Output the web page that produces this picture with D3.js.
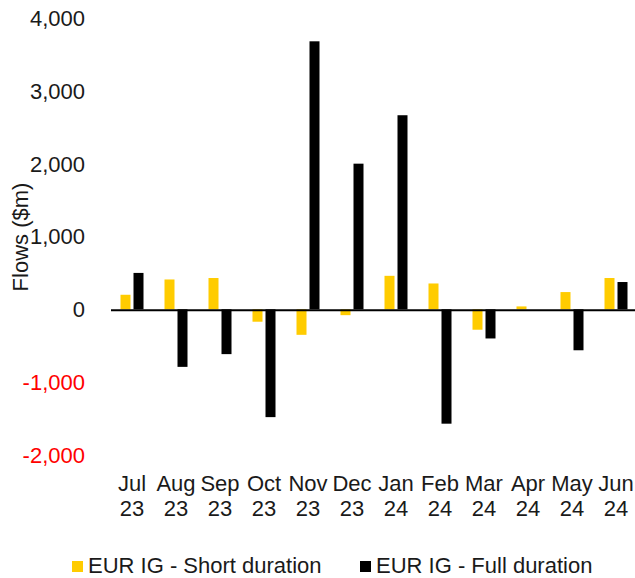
<!DOCTYPE html>
<html>
<head>
<meta charset="utf-8">
<script src="https://d3js.org/d3.v7.min.js"></script>
<style type="text/css">
    html, body {
        margin: 0;
        padding: 0;
        background: #fff;
    }
    svg text {
        font-family: "Liberation Sans", Arial, sans-serif;
        fill: #1a1a1a;
    }
</style>
</head>
<body>
<div id="chart"></div>
<script>
// chart values
var months = ['Jul 23', 'Aug 23', 'Sep 23', 'Oct 23', 'Nov 23', 'Dec 23',
              'Jan 24', 'Feb 24', 'Mar 24', 'Apr 24', 'May 24', 'Jun 24'];
var seriesNames = ['EUR IG - Short duration', 'EUR IG - Full duration'];
var shortDuration = [200, 410, 430, -170, -350, -80, 460, 355, -280, 40, 237, 430];
var fullDuration = [500, -790, -615, -1480, 3680, 2000, 2665, -1570, -400, 0, -562, 375];
var yTicks = [-2000, -1000, 0, 1000, 2000, 3000, 4000];
var yTickLabels = ['-2,000', '-1,000', '0', '1,000', '2,000', '3,000', '4,000'];
var colors = ['#ffcc00', '#000000'];

var width = 635, height = 578;

var svg = d3.select('#chart').append('svg')
    .attr('width', width)
    .attr('height', height);

var x = d3.scaleBand()
    .domain(months)
    .range([110, 638])
    .padding(0);

var step = x.step();
var inner = d3.scaleBand()
    .domain([0, 1])
    .range([step / 2 - 11.5, step / 2 + 11.5])
    .paddingInner(0.2308)
    .paddingOuter(0);

var y = d3.scaleLinear()
    .domain([-2000, 4000])
    .range([455, 18]);

// y tick labels, negatives in red
svg.append('g')
    .selectAll('text')
    .data(yTicks)
    .enter()
    .append('text')
    .attr('x', 85)
    .attr('y', function(d) { return y(d); })
    .attr('dy', '0.36em')
    .attr('text-anchor', 'end')
    .style('font-size', '22px')
    .style('fill', function(d) { return d < 0 ? '#ff0000' : '#1a1a1a'; })
    .text(function(d, i) { return yTickLabels[i]; });

// y axis title
svg.append('text')
    .attr('transform', 'translate(28,237) rotate(-90)')
    .attr('text-anchor', 'middle')
    .style('font-size', '22px')
    .text('Flows ($m)');

// bars
var series = [shortDuration, fullDuration];
series.forEach(function(vals, s) {
    svg.append('g')
        .selectAll('rect')
        .data(vals)
        .enter()
        .append('rect')
        .attr('x', function(d, i) { return x(months[i]) + inner(s); })
        .attr('width', inner.bandwidth())
        .attr('y', function(d) { return y(Math.max(0, d)); })
        .attr('height', function(d) { return Math.abs(y(d) - y(0)); })
        .attr('fill', colors[s]);
});

// zero line
svg.append('line')
    .attr('x1', 111)
    .attr('x2', 635)
    .attr('y1', y(0) + 1)
    .attr('y2', y(0) + 1)
    .attr('stroke', '#000')
    .attr('stroke-width', 2);

// month labels on two lines
var xLabels = svg.append('g')
    .selectAll('text')
    .data(months)
    .enter()
    .append('text')
    .attr('text-anchor', 'middle')
    .style('font-size', '22px');

xLabels.append('tspan')
    .attr('x', function(d) { return x(d) + step / 2; })
    .attr('y', 491)
    .text(function(d) { return d.split(' ')[0]; });

xLabels.append('tspan')
    .attr('x', function(d) { return x(d) + step / 2; })
    .attr('y', 516)
    .text(function(d) { return d.split(' ')[1]; });

// legend
var legendX = [72, 360];
var legend = svg.append('g')
    .selectAll('g')
    .data(seriesNames)
    .enter()
    .append('g')
    .attr('transform', function(d, i) { return 'translate(' + legendX[i] + ',561)'; });

legend.append('rect')
    .attr('width', 11)
    .attr('height', 11)
    .attr('fill', function(d, i) { return colors[i]; });

legend.append('text')
    .attr('x', 16)
    .attr('y', 12)
    .style('font-size', '22px')
    .text(function(d) { return d; });
</script>
</body>
</html>
